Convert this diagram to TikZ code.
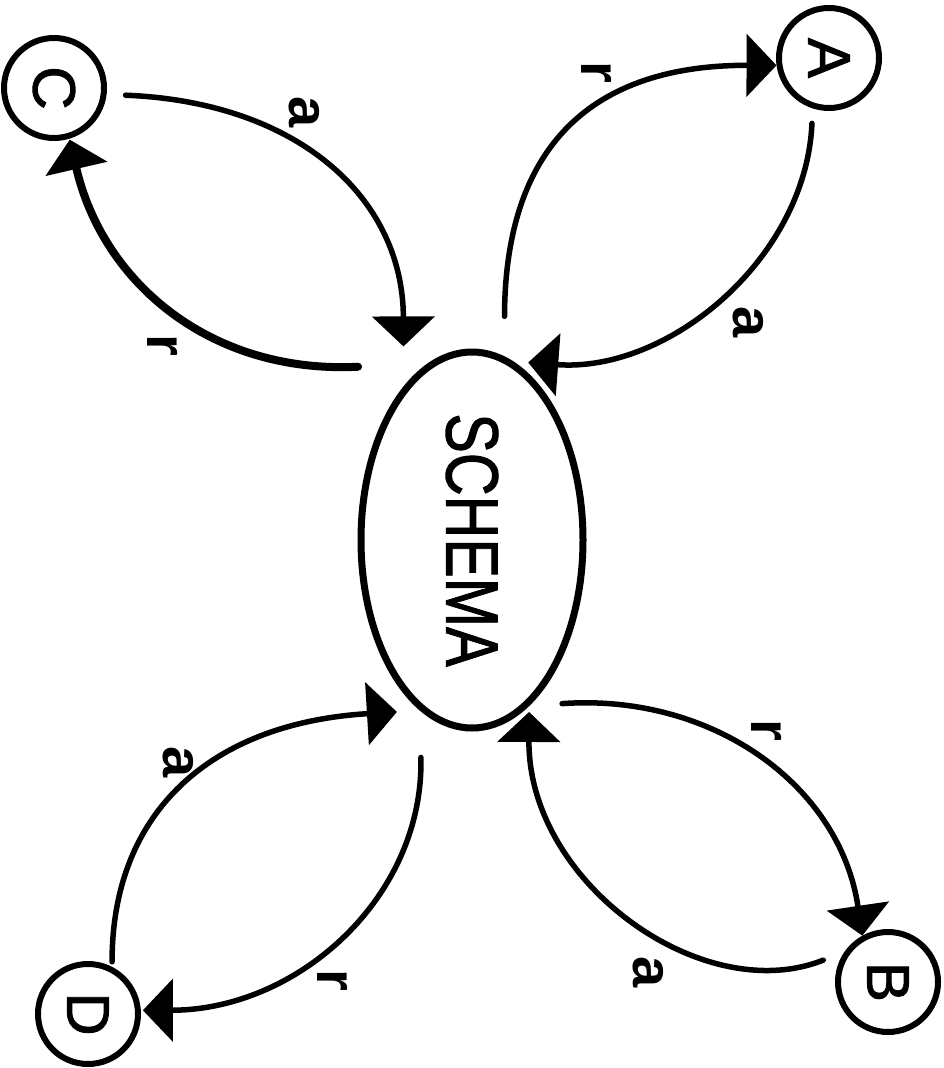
\documentclass[tikz,border=0pt]{standalone}
\usepackage{fontspec}
\setmainfont{Liberation Sans}
\newfontfamily\heavysans{Liberation Sans}[FakeBold=1.5]
\usetikzlibrary{arrows.meta,shapes.geometric}

\begin{document}
\begin{tikzpicture}[x=1pt,y=-1pt,
  letter/.style={circle, draw, line width=6pt, minimum size=100pt, inner sep=0pt,
                 font=\heavysans\fontsize{60}{60}\selectfont},
  hub/.style={ellipse, draw, line width=7pt, minimum width=222pt, minimum height=376pt,
              inner sep=0pt, font=\heavysans\fontsize{74}{74}\selectfont},
  lbl/.style={inner sep=0pt, rotate=-90, font=\bfseries\fontsize{56}{56}\selectfont},
  link/.style={line width=5.5pt, line cap=round,
               -{Triangle[length=30pt,width=62pt]}}]

\useasboundingbox[fill=white] (0,0) rectangle (943,1068);

% central schema and the four partners
\node[hub] (S) at (472,540) {\rotatebox{-90}{\scalebox{0.8}[1]{SCHEMA}}};
\node[letter] (C) at (54,88)   {\rotatebox{-90}{C}};
\node[letter] (A) at (829,58)  {\rotatebox{-90}{A}};
\node[letter] (D) at (88,1014) {\rotatebox{-90}{D}};
\node[letter] (B) at (888,982) {\rotatebox{-90}{B}};

% C lobe
\draw[link, shorten <=19pt, shorten >=40pt]
  (C.-7) .. controls (297,102) and (403,197) .. (S.114);
\draw[link, line width=8pt, shorten <=70pt, shorten >=1pt]
  (S.104) .. controls (212,374) and (103,284) .. (C.-73);
\node[lbl] (lCa) at (304,112) {a};
\node[lbl] (lCr) at (163,345) {r};

% A lobe
\draw[link, shorten <=40pt]
  (S.80) .. controls (505,146) and (592,65) .. (A.188);
\draw[link, shorten <=15pt, shorten >=15pt]
  (A.-108) .. controls (806,258) and (669,373) .. (S.77);
\node[lbl] (lAr) at (597,72) {r};
\node[lbl] (lAa) at (748,322) {a};

% D lobe
\draw[link, shorten <=5pt, shorten >=23pt]
  (D.63) .. controls (112,811) and (212,723) .. (S.-107);
\draw[link, shorten <=47pt, shorten >=2pt]
  (S.-107) .. controls (424,897) and (298,1010) .. (D.4);
\node[lbl] (lDa) at (178,762) {a};
\node[lbl] (lDr) at (333,980) {r};

% B lobe
\draw[link, shorten <=33pt]
  (S.-71) .. controls (712,693) and (840,785) .. (B.119);
\draw[link, shorten <=23pt, shorten >=6pt]
  (B.145) .. controls (703,1008) and (528,883) .. (S.-71.5);
\node[lbl] (lBr) at (767,730) {r};
\node[lbl] (lBa) at (648,972) {a};

\end{tikzpicture}
\end{document}
